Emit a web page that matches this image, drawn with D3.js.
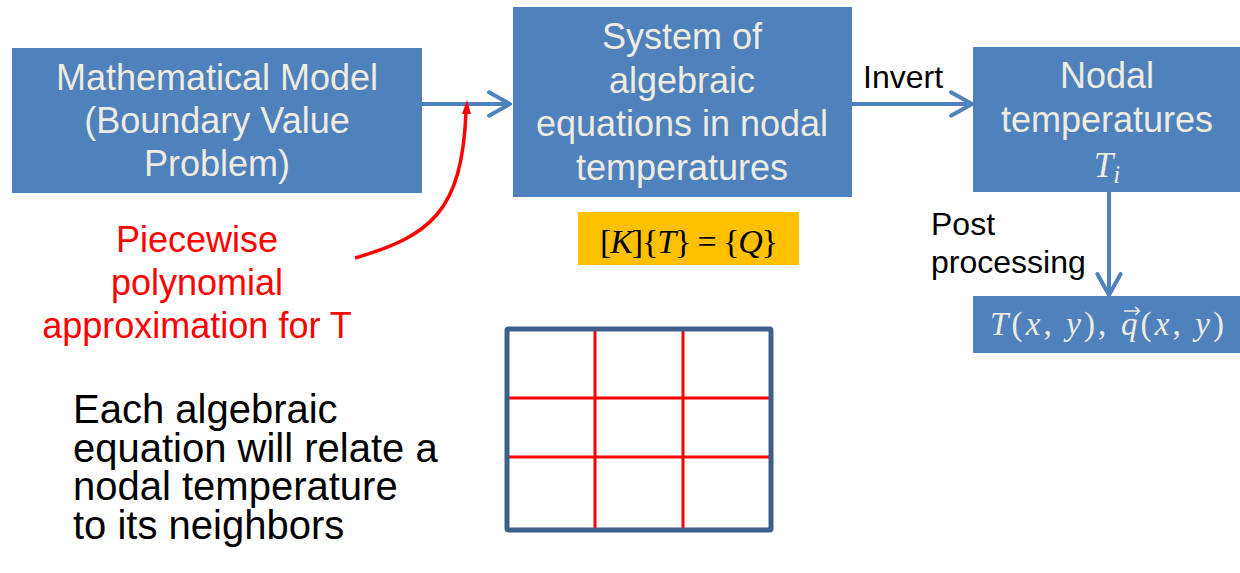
<!DOCTYPE html>
<html>
<head>
<meta charset="utf-8">
<script src="https://cdn.jsdelivr.net/npm/d3@7"></script>
<style>
	body { margin: 0; background: #fff; }
	svg { display: block; }
</style>
</head>
<body>
<svg width="1240" height="573"></svg>
<script>
const modelLines = ['Mathematical Model', '(Boundary Value', 'Problem)'];
const systemLines = ['System of', 'algebraic', 'equations in nodal', 'temperatures'];
const nodalLines = ['Nodal', 'temperatures'];
const approxLines = ['Piecewise', 'polynomial', 'approximation for T'];
const noteLines = ['Each algebraic', 'equation will relate a', 'nodal temperature', 'to its neighbors'];
const postLines = ['Post', 'processing'];
const invertLabel = 'Invert';
const gridCols = [1, 2];
const gridRows = [1.03, 1.91];

const blue = '#4f81bd',
	cream = '#eeece1',
	sans = '"Liberation Sans", Arial, sans-serif',
	serif = '"Liberation Serif", "DejaVu Serif", serif',
	svg = d3.select('svg');

svg.append('rect').attr('width', 1240).attr('height', 573).attr('fill', '#fff');

function box(x, y, w, h, fill) {
	return svg.append('rect').attr('x', x).attr('y', y).attr('width', w).attr('height', h).attr('fill', fill);
}

// one text element per block, lines as tspans
function lines(arr, cx, y0, step, size, color, anchor) {
	let t = svg.append('text')
		.attr('x', cx).attr('y', y0)
		.attr('text-anchor', anchor || 'middle')
		.attr('font-family', sans).attr('font-size', size)
		.attr('fill', color);
	arr.forEach((s, i) => {
		t.append('tspan').attr('x', cx).attr('dy', i ? step : 0).text(s);
	});
	return t;
}

// open chevron arrow head
function chevron(x, y, ang) {
	let len = 24, spread = Math.PI / 6.2;
	let p = d3.path();
	p.moveTo(x - len * Math.cos(ang - spread), y - len * Math.sin(ang - spread));
	p.lineTo(x, y);
	p.lineTo(x - len * Math.cos(ang + spread), y - len * Math.sin(ang + spread));
	svg.append('path').attr('d', p.toString()).attr('fill', 'none')
		.attr('stroke', blue).attr('stroke-width', 4)
		.attr('stroke-linecap', 'round').attr('stroke-linejoin', 'round');
}

function shaft(x1, y1, x2, y2) {
	svg.append('line').attr('x1', x1).attr('y1', y1).attr('x2', x2).attr('y2', y2)
		.attr('stroke', blue).attr('stroke-width', 4);
}

// boxes
box(12, 48, 410, 145, blue);
box(513, 7, 339, 190, blue);
box(973, 47, 267, 145, blue);
box(973, 296, 267, 57, blue);
box(578, 212, 221, 53, '#ffc000');

lines(modelLines, 217, 90, 43, 36, cream);
lines(systemLines, 682, 49, 43.5, 36, cream);
lines(nodalLines, 1107, 88, 44, 36, cream);

// T_i
let ti = svg.append('text').attr('x', 1107).attr('y', 177).attr('text-anchor', 'middle')
	.attr('font-family', serif).attr('font-style', 'italic').attr('font-size', 35).attr('fill', cream);
ti.append('tspan').text('T');
ti.append('tspan').attr('font-size', 25).attr('dy', 6).text('i');

// arrows
shaft(422, 104, 508, 104);
chevron(510, 104, 0);
shaft(852, 104, 970, 104);
chevron(972, 104, 0);
shaft(1109, 192, 1109, 293);
chevron(1109, 295, Math.PI / 2);

svg.append('text').attr('x', 863).attr('y', 88).attr('font-family', sans)
	.attr('font-size', 32).attr('fill', '#000').text(invertLabel);
lines(postLines, 931, 235, 38, 32, '#000', 'start');

// [K]{T} = {Q}
let eq = svg.append('text').attr('x', 600).attr('y', 253)
	.attr('font-family', serif).attr('font-size', 34).attr('fill', '#000')
	.attr('textLength', 178).attr('lengthAdjust', 'spacing');
[['[', false], ['K', true], [']{', false], ['T', true], ['} = {', false], ['Q', true], ['}', false]]
	.forEach(d => eq.append('tspan').attr('font-style', d[1] ? 'italic' : 'normal').text(d[0]));

// T(x, y), q(x, y)
let fx = svg.append('text').attr('x', 990).attr('y', 335)
	.attr('font-family', serif).attr('font-size', 33).attr('fill', cream)
	.attr('textLength', 234).attr('lengthAdjust', 'spacing');
[['T', true], ['(', false], ['x', true], [', ', false], ['y', true], ['), ', false],
	['q', true], ['(', false], ['x', true], [', ', false], ['y', true], [')', false]]
	.forEach(d => fx.append('tspan').attr('font-style', d[1] ? 'italic' : 'normal').text(d[0]));
let qIdx = 'T(x, y), '.length;
let qPos = fx.node().getStartPositionOfChar(qIdx);
let qEnd = fx.node().getEndPositionOfChar(qIdx);
let qx0 = qPos.x + 3, qx1 = qEnd.x + 2;
svg.append('path')
	.attr('d', `M${qx0},${311}L${qx1},${311}M${qx1 - 4},${307}L${qx1},${311}L${qx1 - 4},${315}`)
	.attr('fill', 'none').attr('stroke', cream).attr('stroke-width', 1.6);

// red approximation arrow
lines(approxLines, 197, 252, 43, 36, '#ff0000');
svg.append('path').attr('d', 'M355,258 C430,236 462,212 466,112')
	.attr('fill', 'none').attr('stroke', '#ff0000').attr('stroke-width', 3.5);
svg.append('path').attr('d', 'M467,100 L462,114 L471,114 Z').attr('fill', '#ff0000');

// note text
lines(noteLines, 73, 423, 38.5, 40, '#000', 'start');

// grid
const gx = d3.scaleLinear().domain([0, 3]).range([507, 771]),
	gy = d3.scaleLinear().domain([0, 3]).range([329, 530]);

let grid = svg.append('g');
grid.selectAll('line.v').data(gridCols).enter().append('line')
	.attr('x1', d => gx(d)).attr('x2', d => gx(d))
	.attr('y1', gy(0)).attr('y2', gy(3))
	.attr('stroke', '#ff0000').attr('stroke-width', 3);
grid.selectAll('line.h').data(gridRows).enter().append('line')
	.attr('y1', d => gy(d)).attr('y2', d => gy(d))
	.attr('x1', gx(0)).attr('x2', gx(3))
	.attr('stroke', '#ff0000').attr('stroke-width', 3);
grid.append('rect')
	.attr('x', gx(0)).attr('y', gy(0))
	.attr('width', gx(3) - gx(0)).attr('height', gy(3) - gy(0))
	.attr('fill', 'none').attr('stroke', '#3e5f8c').attr('stroke-width', 5)
	.attr('rx', 1.5);
</script>
</body>
</html>
